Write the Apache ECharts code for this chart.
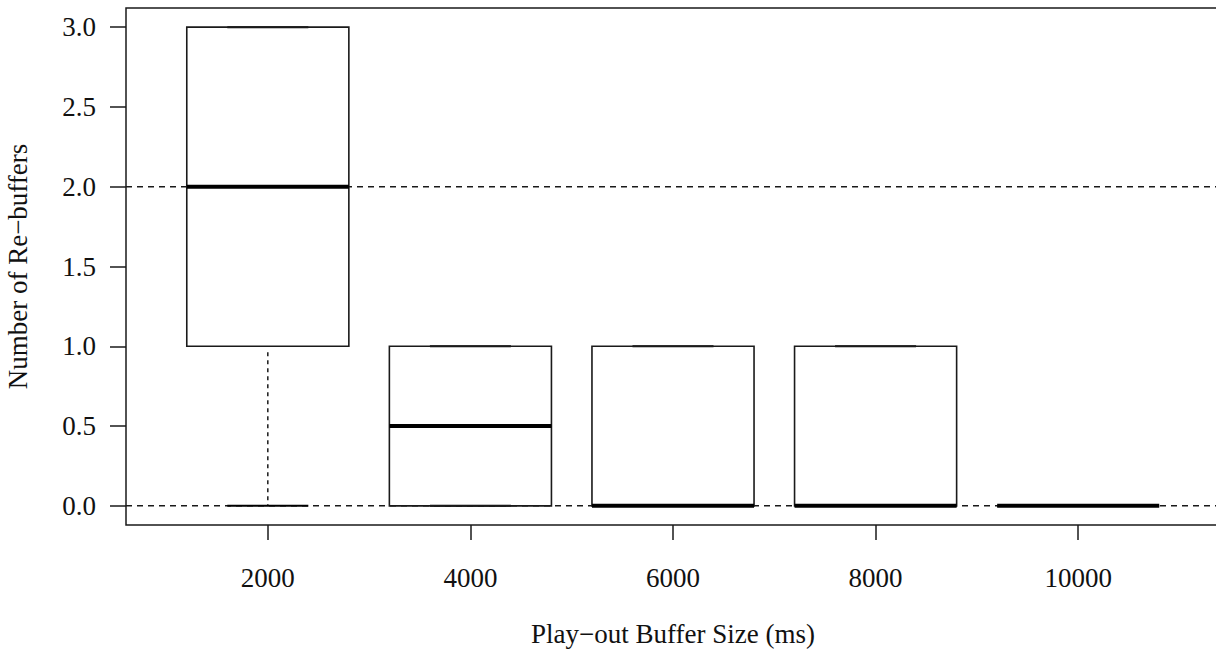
<!DOCTYPE html>
<html>
<head>
<meta charset="utf-8">
<script src="https://cdn.jsdelivr.net/npm/echarts@6/dist/echarts.min.js"></script>
<style>
  html, body { margin: 0; padding: 0; background: #fff; }
  #chart { width: 1216px; height: 654px; }
</style>
</head>
<body>
<div id="chart"></div>
<script>
// ---- data ----
const categories   = ['2000', '4000', '6000', '8000', '10000'];
const whiskerLow   = [0, 0, 0, 0, 0];
const q1           = [1, 0, 0, 0, 0];
const median       = [2, 0.5, 0, 0, 0];
const q3           = [3, 1, 1, 1, 0];
const whiskerHigh  = [3, 1, 1, 1, 0];
const yTicks       = [0, 0.5, 1, 1.5, 2, 2.5, 3];
const refLines     = [0, 2];
const xTitle = 'Play\u2212out Buffer Size (ms)';
const yTitle = 'Number of Re\u2212buffers';

// ---- layout constants ----
const X_MIN = 0.3, X_MAX = 5.7;
const positions = categories.map((c, i) => i + 1);
const FONT = '"Liberation Serif", "Times New Roman", serif';
const INK = '#1a1a1a';
const FS = 27;

const boxData = categories.map((c, i) => [i + 1, whiskerLow[i], q1[i], median[i], q3[i], whiskerHigh[i]]);

const chart = echarts.init(document.getElementById('chart'), null, { renderer: 'svg' });

chart.setOption({
  animation: false,
  backgroundColor: '#fff',
  grid: {
    left: 126, top: 8, width: 1094, height: 517,
    outerBoundsMode: 'none', containLabel: false,
    show: true, borderColor: INK, borderWidth: 1.5, backgroundColor: 'transparent'
  },
  xAxis: {
    type: 'value', min: X_MIN, max: X_MAX,
    axisLine: { show: false, onZero: false },
    splitLine: { show: false },
    axisTick: { show: true, customValues: positions, length: 15, lineStyle: { color: INK, width: 1.5 } },
    axisLabel: {
      customValues: positions, margin: 39,
      formatter: v => categories[Math.round(v) - 1] || '',
      fontFamily: FONT, fontSize: FS, color: '#111'
    },
    name: xTitle, nameLocation: 'middle', nameGap: 95,
    nameTextStyle: { fontFamily: FONT, fontSize: FS, color: '#111' }
  },
  yAxis: {
    type: 'value', min: -0.12, max: 3.12,
    axisLine: { show: false, onZero: false },
    splitLine: { show: false },
    axisTick: { show: true, customValues: yTicks, length: 16, lineStyle: { color: INK, width: 1.5 } },
    axisLabel: {
      customValues: yTicks, margin: 30,
      formatter: v => Number(v).toFixed(1),
      fontFamily: FONT, fontSize: FS, color: '#111'
    },
    name: yTitle, nameLocation: 'middle', nameGap: 95, nameRotate: 90,
    nameTextStyle: { fontFamily: FONT, fontSize: FS, color: '#111' }
  },
  series: [
    {
      type: 'custom',
      z: 1,
      data: refLines.map(v => [v]),
      renderItem(params, api) {
        const v = api.value(0);
        const p0 = api.coord([X_MIN, v]);
        const p1 = api.coord([X_MAX, v]);
        return {
          type: 'line',
          shape: { x1: p0[0], y1: p0[1], x2: p1[0], y2: p1[1] },
          style: { stroke: INK, lineWidth: 1.5, lineDash: [6, 5], fill: null }
        };
      }
    },
    {
      type: 'custom',
      z: 2,
      data: boxData,
      renderItem(params, api) {
        const x = api.value(0);
        const lo = api.value(1), a = api.value(2), m = api.value(3), b = api.value(4), hi = api.value(5);
        const tl = api.coord([x - 0.4, b]);
        const br = api.coord([x + 0.4, a]);
        const children = [];
        const solid = { stroke: INK, lineWidth: 1.6, fill: null };
        const dashed = { stroke: INK, lineWidth: 1.5, lineDash: [4, 4], fill: null };
        // whiskers
        if (hi > b) {
          const p0 = api.coord([x, b]), p1 = api.coord([x, hi]);
          children.push({ type: 'line', shape: { x1: p0[0], y1: p0[1], x2: p1[0], y2: p1[1] }, style: dashed });
        }
        if (lo < a) {
          const p0 = api.coord([x, a]), p1 = api.coord([x, lo]);
          children.push({ type: 'line', shape: { x1: p0[0], y1: p0[1] + 6, x2: p1[0], y2: p1[1] }, style: dashed });
        }
        // caps
        [lo, hi].forEach(v => {
          const p0 = api.coord([x - 0.2, v]), p1 = api.coord([x + 0.2, v]);
          children.push({ type: 'line', shape: { x1: p0[0], y1: p0[1], x2: p1[0], y2: p1[1] }, style: { stroke: '#000', lineWidth: 2, fill: null } });
        });
        // box
        children.push({
          type: 'rect',
          shape: { x: tl[0], y: tl[1], width: br[0] - tl[0], height: br[1] - tl[1] },
          style: solid
        });
        // median
        const m0 = api.coord([x - 0.4, m]), m1 = api.coord([x + 0.4, m]);
        children.push({ type: 'line', shape: { x1: m0[0], y1: m0[1], x2: m1[0], y2: m1[1] }, style: { stroke: '#000', lineWidth: 4, fill: null } });
        return { type: 'group', children };
      }
    }
  ]
});
</script>
</body>
</html>
